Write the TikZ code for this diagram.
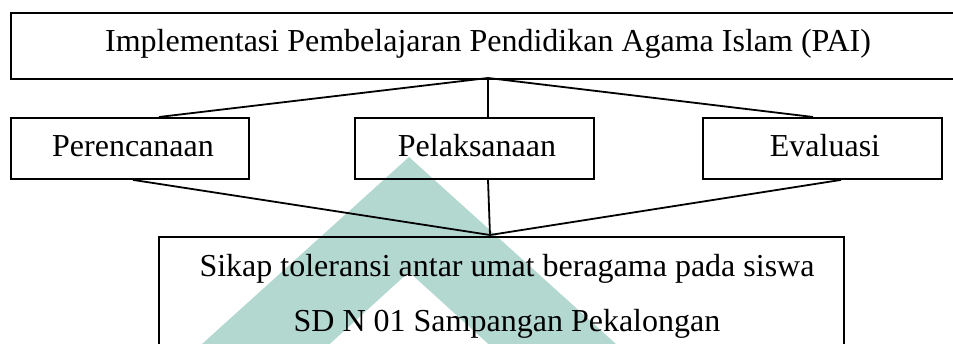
\documentclass[tikz,border=0pt]{standalone}
\usepackage{fontspec}
\setmainfont{Liberation Serif}
\newfontfamily\tnr{LiberationSerif-Regular.ttf}
\begin{document}
\begin{tikzpicture}[x=1pt,y=-1pt,
  box/.style={draw=black,line width=1.9pt,inner sep=0pt,anchor=north west},
  lbl/.style={inner sep=0pt,anchor=base,font=\tnr\fontsize{32}{38}\selectfont},
  conn/.style={draw=black,line width=1.8pt}]
\useasboundingbox (0,0) rectangle (953,344);
\clip (0,0) rectangle (953,344);
% watermark
\fill[fill={rgb,255:red,179;green,216;blue,208},even odd rule]
  (409,157) -- (678,400) -- (140,400) -- cycle
  (409,272) -- (550,400) -- (268,400) -- cycle;
% boxes
\node[box,minimum width=1000pt,minimum height=66pt] (top) at (10,12) {};
\node[box,minimum width=238pt,minimum height=61pt] (per) at (10,117) {};
\node[box,minimum width=239pt,minimum height=61pt] (pel) at (354,117) {};
\node[box,minimum width=239pt,minimum height=61pt] (eva) at (702,117) {};
\node[box,minimum width=685pt,minimum height=200pt] (bot) at (158,236) {};
% texts
\node[lbl] (ttop) at (488,52) {Implementasi Pembelajaran Pendidikan Agama Islam (PAI)};
\node[lbl] (tper) at (133,157) {Perencanaan};
\node[lbl] (tpel) at (477,157) {Pelaksanaan};
\node[lbl] (teva) at (825,157) {Evaluasi};
\node[lbl] (tb1) at (507,277) {Sikap toleransi antar umat beragama pada siswa};
\node[lbl] (tb2) at (507,332) {SD N 01 Sampangan Pekalongan};
% junctions
\coordinate (jt) at (488,78);
\coordinate (jb) at (490,235);
\draw[conn] (jt) -- (per.north west -| 159,0);
\draw[conn] (jt) -- (pel.north west -| 488,0);
\draw[conn] (jt) -- (eva.north west -| 813,0);
\draw[conn] (per.south west -| 133,0) -- (jb);
\draw[conn] (pel.south west -| 488,0) -- (jb);
\draw[conn] (eva.south west -| 841,0) -- (jb);
\end{tikzpicture}
\end{document}
